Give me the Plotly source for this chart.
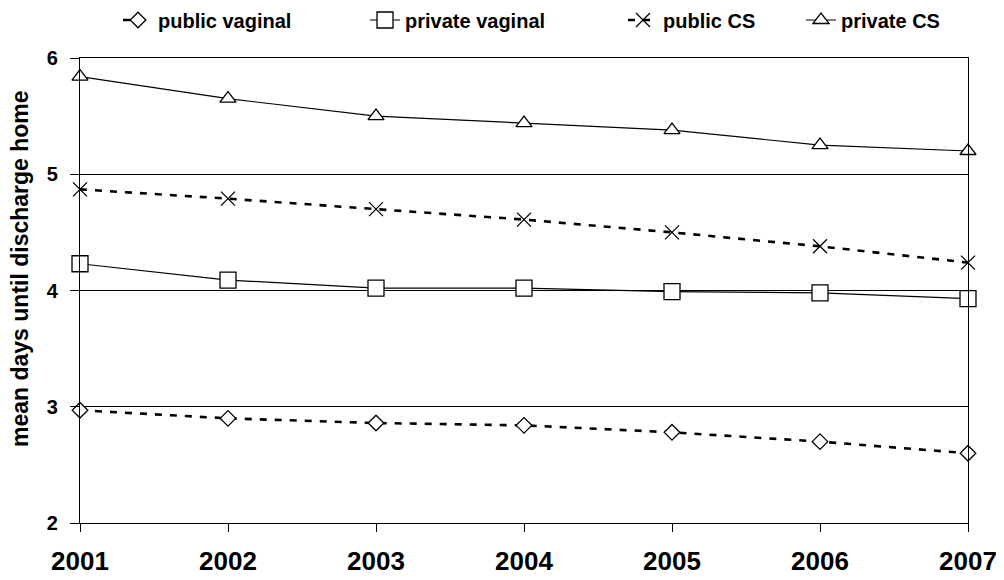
import plotly.graph_objects as go

years = [2001, 2002, 2003, 2004, 2005, 2006, 2007]
public_vaginal = [2.97, 2.90, 2.86, 2.84, 2.78, 2.70, 2.60]
private_vaginal = [4.23, 4.09, 4.02, 4.02, 3.99, 3.98, 3.93]
public_cs = [4.87, 4.79, 4.70, 4.61, 4.50, 4.38, 4.24]
private_cs = [5.84, 5.65, 5.50, 5.44, 5.38, 5.25, 5.20]
y_ticks = [2, 3, 4, 5, 6]

FONT = "Liberation Sans, Arial, sans-serif"

# page body has an 8px margin; plot area target: x 80..968, y 58..523
OFF = 8
W, H = 1004 - OFF, 580 - OFF
ML, MR, MT, MB = 80 - OFF, 1004 - 968, 58 - OFF, 580 - 523
PW, PH = W - ML - MR, H - MT - MB

series = [
    ("public vaginal", public_vaginal, "diamond", True, 12, 160),
    ("private vaginal", private_vaginal, "square", False, 16, 407),
    ("public CS", public_cs, "x-thin", True, 14, 665),
    ("private CS", private_cs, "triangle-up", False, 14, 843),
]

fig = go.Figure()
legend_layout = {}
for i, (name, vals, sym, dashed, sz, text_x) in enumerate(series):
    if sym == "x-thin":
        marker = dict(symbol=sym, size=sz, color="black",
                      line=dict(color="black", width=1.3))
    else:
        marker = dict(symbol=sym, size=sz, color="white",
                      line=dict(color="black", width=1.3))
    lg = "legend" if i == 0 else f"legend{i + 1}"
    fig.add_trace(go.Scatter(
        x=years, y=vals, name=name, mode="lines+markers",
        line=dict(color="black", width=2.6 if dashed else 1.2,
                  dash="7px,8px" if dashed else "solid"),
        marker=marker,
        cliponaxis=False,
        legend=lg,
    ))
    legend_layout[lg] = dict(
        x=(text_x - 42 - 80) / PW, xanchor="left",
        yref="container", y=1 - (20 - OFF) / H, yanchor="middle",
        font=dict(size=20, family=FONT, weight="bold", color="black"),
        bgcolor="rgba(0,0,0,0)", borderwidth=0,
    )

fig.update_layout(
    width=W, height=H,
    paper_bgcolor="white", plot_bgcolor="white",
    margin=dict(l=ML, r=MR, t=MT, b=MB, autoexpand=False),
    font=dict(family=FONT, color="black"),
    showlegend=True,
    annotations=[dict(
        text="<b>mean days until discharge home</b>", textangle=-90,
        xref="paper", yref="paper", x=(20 - 80) / PW, y=(523 - 269) / PH,
        xanchor="center", yanchor="middle", showarrow=False,
        font=dict(size=23, family=FONT, color="black"),
    )],
    **legend_layout,
)
fig.update_xaxes(
    range=[2001, 2007], tickvals=years, ticktext=[str(y) for y in years],
    showgrid=False, showline=True, linecolor="black", linewidth=1.3, mirror=True,
    ticks="outside", ticklen=8, tickcolor="black", tickwidth=1,
    tickfont=dict(size=26, weight="bold", family=FONT), zeroline=False,
    automargin=False, ticklabelstandoff=7,
)
fig.update_yaxes(
    range=[2, 6], tickvals=y_ticks,
    showgrid=True, gridcolor="black", gridwidth=1,
    showline=True, linecolor="black", linewidth=1.3, mirror=True,
    ticks="outside", ticklen=9, tickcolor="black", tickwidth=1,
    tickfont=dict(size=20, weight="bold", family=FONT), zeroline=False,
    automargin=False, ticklabelstandoff=8,
)
fig.write_html("out.html")
